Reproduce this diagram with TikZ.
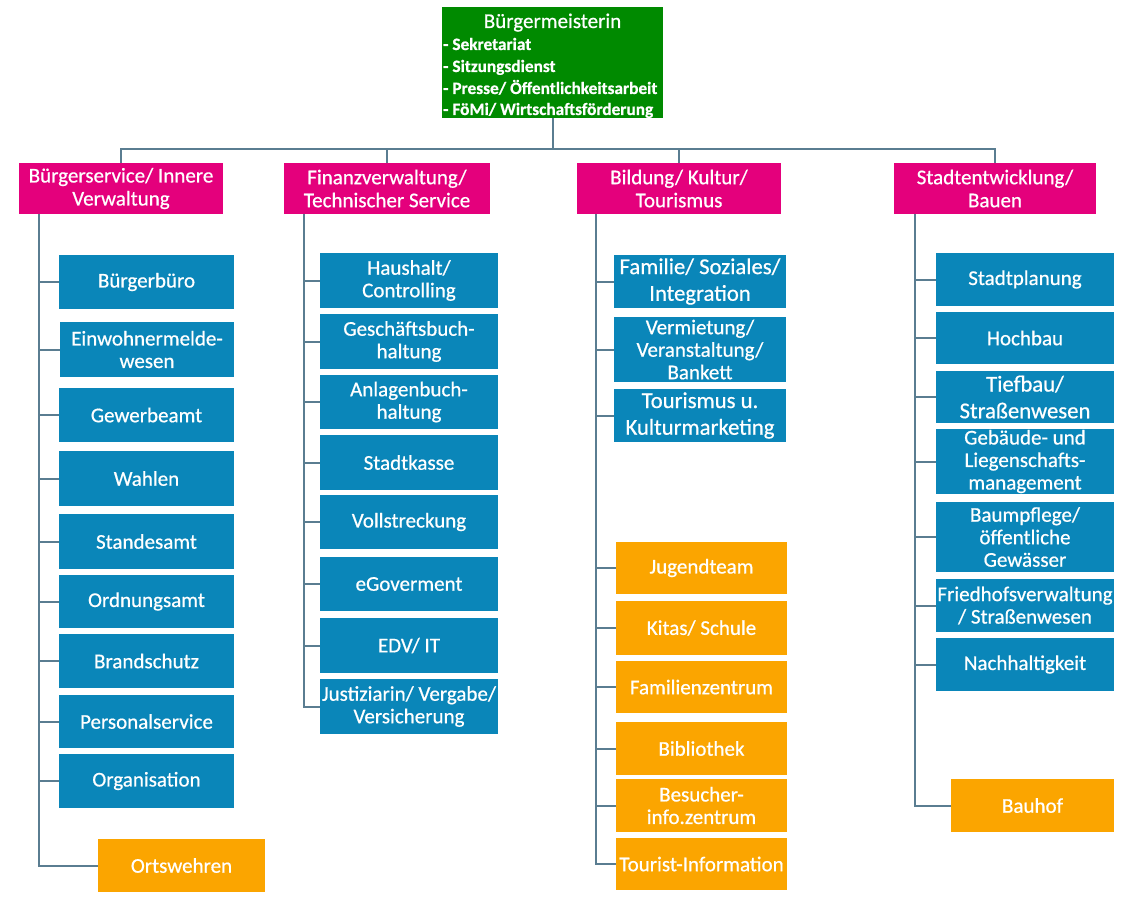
\documentclass[tikz,border=0pt]{standalone}
\usepackage{fontspec}
\setmainfont{Carlito}[RawFeature={embolden=0.6}]
\definecolor{cgreen}{HTML}{008A00}
\definecolor{cpink}{HTML}{E4007C}
\definecolor{cblue}{HTML}{0A86B9}
\definecolor{corange}{HTML}{FBA500}
\definecolor{cline}{HTML}{5A7D91}
\tikzset{
  box/.style={draw=none, inner sep=0pt, align=center, text=white,
    font=\fontsize{21}{22.5}\selectfont},
  sz/.style 2 args={minimum width=#1pt, minimum height=#2pt},
  bluebox/.style={box, fill=cblue},
  orangebox/.style={box, fill=corange},
  pinkbox/.style={box, fill=cpink, font=\fontsize{21}{23}\selectfont},
  big/.style={font=\fontsize{22.7}{26.7}\selectfont},
  conn/.style={draw=cline, line width=2pt},
  gitem/.style={anchor=base west, inner sep=0pt, text=white,
    font=\bfseries\fontsize{17.3}{22}\selectfont},
}
\begin{document}
\begin{tikzpicture}[x=1pt,y=-1pt]
\useasboundingbox[fill=white] (0,0) rectangle (1142,896);

% top
\node[box, fill=cgreen, sz={221}{111}] (g) at (552.5,62.5) {};
\node[anchor=base, inner sep=0pt, text=white, font=\fontsize{21}{23}\selectfont] (gt) at (552.5,28) {Bürgermeisterin};
\node[gitem] (gi1) at (443,50) {- Sekretariat};
\node[gitem] (gi2) at (443,72) {- Sitzungsdienst};
\node[gitem] (gi3) at (443,94) {- Presse/ Öffentlichkeitsarbeit};
\node[gitem] (gi4) at (443,115) {- FöMi/ Wirtschaftsförderung};

% departments
\node[pinkbox, sz={204}{51}] (p1) at (121,188.5) {Bürgerservice/ Innere\\Verwaltung};
\node[pinkbox, sz={206}{51}] (p2) at (387,188.5) {Finanzverwaltung/\\Technischer Service};
\node[pinkbox, sz={204}{51}] (p3) at (679,188.5) {Bildung/ Kultur/\\Tourismus};
\node[pinkbox, sz={202}{51}] (p4) at (995,188.5) {Stadtentwicklung/\\Bauen};

\coordinate (bus) at (552.5,149);
\draw[conn] (g.south) -- (bus);
\draw[conn] (p1.north) |- (bus);
\draw[conn] (p4.north) |- (bus);
\draw[conn] (p2.north) -- (p2.north |- bus);
\draw[conn] (p3.north) -- (p3.north |- bus);

% column 1
\node[bluebox, sz={175}{54}] (a1) at (146.5,282) {Bürgerbüro};
\node[bluebox, sz={174}{55}] (a2) at (147,349.5) {Einwohnermelde-\\wesen};
\node[bluebox, sz={175}{54}] (a3) at (146.5,415) {Gewerbeamt};
\node[bluebox, sz={175}{55}] (a4) at (146.5,478.5) {Wahlen};
\node[bluebox, sz={175}{55}] (a5) at (146.5,541.5) {Standesamt};
\node[bluebox, sz={175}{53}] (a6) at (146.5,601.5) {Ordnungsamt};
\node[bluebox, sz={175}{54}] (a7) at (146.5,661) {Brandschutz};
\node[bluebox, sz={175}{53}] (a8) at (146.5,721.5) {Personalservice};
\node[bluebox, sz={175}{54}] (a9) at (146.5,781) {Organisation};
\node[orangebox, sz={167}{53}] (a10) at (181.5,865.5) {Ortswehren};
\foreach \n in {a1,a2,a3,a4,a5,a6,a7,a8,a9,a10}
  \draw[conn] ([xshift=20pt]p1.south west) |- (\n.west);

% column 2
\node[bluebox, sz={178}{55}] (b1) at (409,280.5) {Haushalt/\\Controlling};
\node[bluebox, sz={178}{55}] (b2) at (409,341.5) {Geschäftsbuch-\\haltung};
\node[bluebox, sz={178}{54}] (b3) at (409,402) {Anlagenbuch-\\haltung};
\node[bluebox, sz={178}{55}] (b4) at (409,462.5) {Stadtkasse};
\node[bluebox, sz={178}{54}] (b5) at (409,522) {Vollstreckung};
\node[bluebox, sz={178}{54}] (b6) at (409,584) {eGoverment};
\node[bluebox, sz={178}{55}] (b7) at (409,645.5) {EDV/ IT};
\node[bluebox, sz={178}{55}] (b8) at (409,706.5) {Justiziarin/ Vergabe/\\Versicherung};
\foreach \n in {b1,b2,b3,b4,b5,b6,b7,b8}
  \draw[conn] ([xshift=20pt]p2.south west) |- (\n.west);

% column 3
\node[bluebox, big, sz={172}{53}] (c1) at (700,281.5) {Familie/ Soziales/\\Integration};
\node[bluebox, sz={172}{65}] (c2) at (700,349.5) {Vermietung/\\Veranstaltung/\\Bankett};
\node[bluebox, big, sz={172}{53}] (c3) at (700,415.5) {Tourismus u.\\Kulturmarketing};
\node[orangebox, sz={171}{52}] (c4) at (701.5,568) {Jugendteam};
\node[orangebox, sz={171}{54}] (c5) at (701.5,628) {Kitas/ Schule};
\node[orangebox, sz={171}{52}] (c6) at (701.5,687) {Familienzentrum};
\node[orangebox, sz={171}{53}] (c7) at (701.5,748.5) {Bibliothek};
\node[orangebox, sz={171}{53}] (c8) at (701.5,805.5) {Besucher-\\info.zentrum};
\node[orangebox, sz={171}{52}] (c9) at (701.5,864) {Tourist-Information};
\foreach \n in {c1,c2,c3,c4,c5,c6,c7,c8,c9}
  \draw[conn] ([xshift=19pt]p3.south west) |- (\n.west);

% column 4
\node[bluebox, sz={178}{53}] (d1) at (1025,279.5) {Stadtplanung};
\node[bluebox, sz={178}{52}] (d2) at (1025,338) {Hochbau};
\node[bluebox, big, sz={178}{52}] (d3) at (1025,397) {Tiefbau/\\Straßenwesen};
\node[bluebox, sz={178}{65}] (d4) at (1025,461.5) {Gebäude- und\\Liegenschafts-\\management};
\node[bluebox, sz={178}{70}] (d5) at (1025,537) {Baumpflege/\\öffentliche\\Gewässer};
\node[bluebox, sz={178}{53}] (d6) at (1025,605.5) {Friedhofsverwaltung\\/ Straßenwesen};
\node[bluebox, sz={178}{53}] (d7) at (1025,664.5) {Nachhaltigkeit};
\node[orangebox, sz={163}{53}] (d8) at (1032.5,805.5) {Bauhof};
\foreach \n in {d1,d2,d3,d4,d5,d6,d7,d8}
  \draw[conn] ([xshift=21pt]p4.south west) |- (\n.west);
\end{tikzpicture}
\end{document}
